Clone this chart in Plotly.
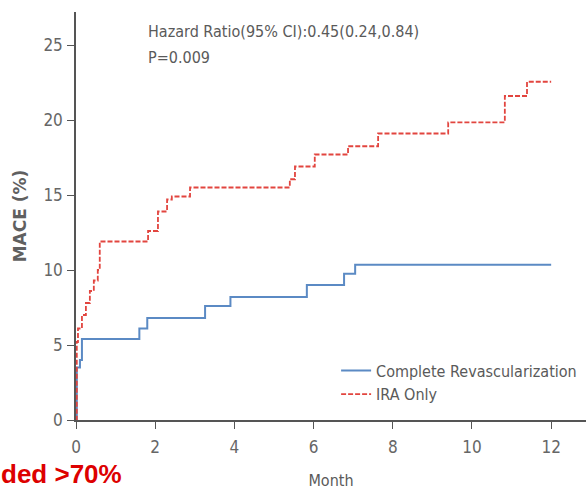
import plotly.graph_objects as go

# Complete Revascularization (step curve)
cr_month = [0, 0.02, 0.10, 0.15, 1.60, 1.80, 3.26, 3.90, 5.83, 6.77, 7.05, 12.0]
cr_mace = [0, 3.5, 4.0, 5.4, 6.1, 6.8, 7.6, 8.2, 9.0, 9.75, 10.35, 10.35]

# IRA Only (step curve)
ira_month = [0, 0.02, 0.05, 0.15, 0.25, 0.35, 0.45, 0.55, 0.60, 1.82, 2.07, 2.30, 2.42,
             2.88, 5.40, 5.53, 6.03, 6.87, 7.63, 9.40, 10.83, 11.39, 12.0]
ira_mace = [0, 5.2, 6.1, 7.0, 7.8, 8.6, 9.3, 10.0, 11.9, 12.6, 13.9, 14.7, 14.9,
            15.5, 16.05, 16.9, 17.7, 18.25, 19.1, 19.84, 21.6, 22.55, 22.55]

x_ticks = [0, 2, 4, 6, 8, 10, 12]
y_ticks = [0, 5, 10, 15, 20, 25]

FONT = "DejaVu Sans Condensed, Liberation Sans Narrow, sans-serif"
GREY = "#5a5a5a"

fig = go.Figure()
fig.add_trace(go.Scatter(x=cr_month, y=cr_mace, mode="lines", line_shape="hv",
                         name="Complete Revascularization",
                         line=dict(color="#5b8ac4", width=2)))
fig.add_trace(go.Scatter(x=ira_month, y=ira_mace, mode="lines", line_shape="hv",
                         name="IRA Only",
                         line=dict(color="#e2453f", width=1.8, dash="5px,2px")))

fig.update_layout(
    width=586, height=490,
    margin=dict(l=76, r=0, t=12, b=70),
    plot_bgcolor="white", paper_bgcolor="white",
    font=dict(family=FONT, size=16, color=GREY),
    showlegend=True,
    legend=dict(x=0.51, y=0.163, xanchor="left", yanchor="top",
                bgcolor="rgba(0,0,0,0)", font=dict(size=16, color=GREY),
                tracegroupgap=0),
    xaxis=dict(range=[0, 12.88], tickvals=x_ticks, showgrid=False, zeroline=False,
               showline=True, linecolor="#555", linewidth=1.5,
               ticks="outside", ticklen=7, tickcolor="#555", ticklabelstandoff=4,
               tickfont=dict(size=17, color="#666"),
               title=dict(text="Month", font=dict(size=16, color=GREY), standoff=19)),
    yaxis=dict(range=[0, 27.2], tickvals=y_ticks, showgrid=False, zeroline=False,
               showline=True, linecolor="#555", linewidth=1.5,
               ticks="outside", ticklen=7, tickcolor="#555", ticklabelstandoff=1,
               tickfont=dict(size=17, color="#666"),
               title=dict(text="<b>MACE (%)</b>", font=dict(family="DejaVu Sans, sans-serif", size=17, color="#606060"), standoff=12)),
)

fig.add_annotation(xref="x", yref="y", x=1.77, y=25.87, xanchor="left", yanchor="middle",
                   text="Hazard Ratio(95% CI):0.45(0.24,0.84)", showarrow=False,
                   font=dict(size=16, color=GREY))
fig.add_annotation(xref="x", yref="y", x=1.77, y=24.15, xanchor="left", yanchor="middle",
                   text="P=0.009", showarrow=False, font=dict(size=16, color=GREY))
fig.add_annotation(xref="paper", yref="paper", x=-76/510, y=(420 - 490) / 408, xanchor="left", yanchor="bottom",
                   text="<b>ded &gt;70%</b>", showarrow=False, borderpad=0,
                   font=dict(family="Liberation Sans, Arial, sans-serif", size=26, color="#dd0000"))

fig.write_html("out.html")
